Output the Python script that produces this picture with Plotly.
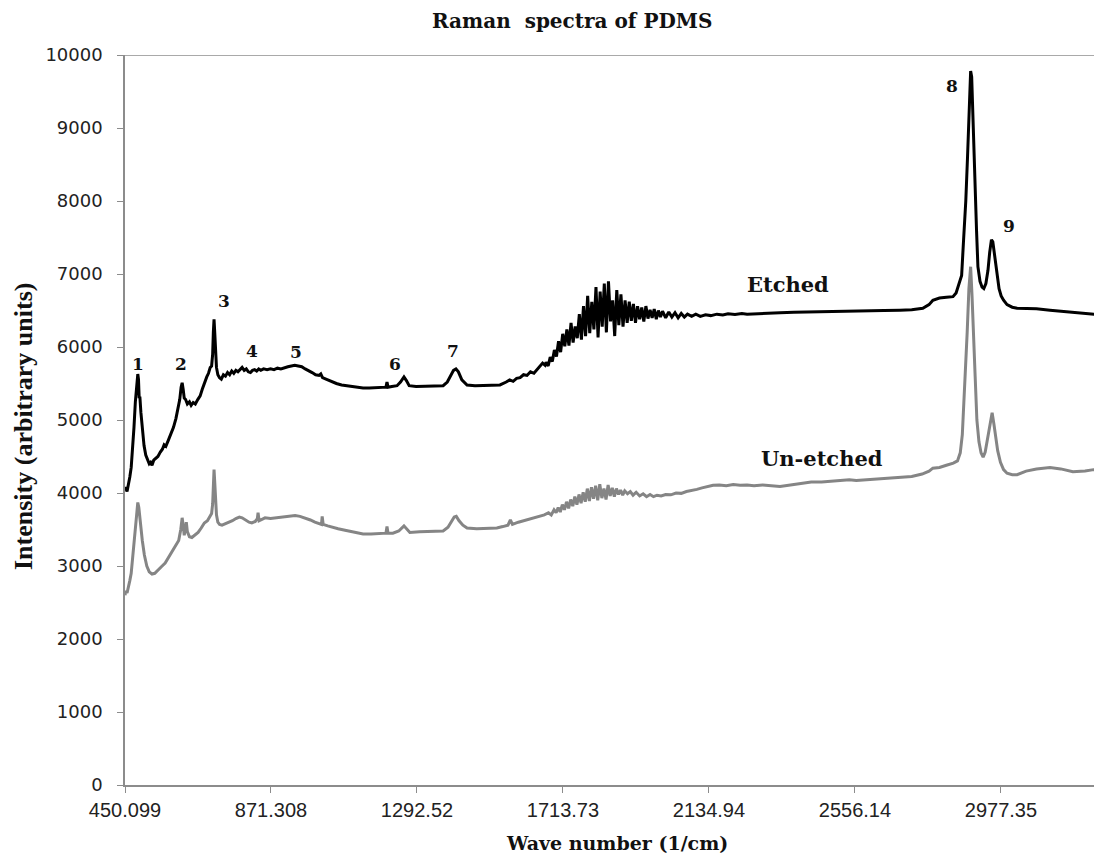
import plotly.graph_objects as go

# ---------------- data ----------------
etched_wn = [450, 453, 456, 460, 464, 468, 472, 476, 480, 484, 487, 489, 491, 493, 496, 500, 505, 510, 515, 520,
             524, 528, 533, 538, 545, 552, 558, 563, 568, 575, 582, 590, 597, 603, 608, 612, 615, 618, 621, 625,
             630, 636, 641, 647, 653, 660, 667, 673, 680, 686, 691, 696, 700, 703, 705, 707, 709, 711, 714, 718,
             723, 728, 734, 740, 746, 752, 758, 764, 770, 776, 782, 788, 794, 800, 806, 812, 818, 824, 830, 836,
             842, 850, 860, 870, 880, 890, 900, 910, 920, 930, 940, 950, 960, 970, 980, 990, 1000, 1010, 1015, 1020,
             1030, 1047, 1060, 1075, 1090, 1105, 1120, 1137, 1155, 1175, 1195, 1203, 1206, 1209, 1220, 1235, 1245, 1255, 1262, 1270,
             1290, 1310, 1330, 1350, 1368, 1380, 1390, 1398, 1405, 1412, 1422, 1437, 1460, 1490, 1523, 1532, 1550, 1560, 1570, 1580,
             1590, 1600, 1610, 1620, 1630, 1640, 1647, 1655, 1662, 1665, 1671, 1677, 1683, 1689, 1695, 1701, 1707, 1713, 1719, 1725,
             1731, 1737, 1743, 1749, 1755, 1761, 1767, 1773, 1779, 1785, 1791, 1797, 1803, 1809, 1815, 1821, 1827, 1833, 1839, 1845,
             1851, 1857, 1863, 1869, 1875, 1881, 1887, 1893, 1899, 1905, 1911, 1917, 1923, 1929, 1935, 1941, 1947, 1953, 1959, 1965,
             1971, 1977, 1983, 1989, 1995, 2001, 2010, 2019, 2028, 2037, 2046, 2055, 2064, 2073, 2085, 2097, 2110, 2125, 2140, 2158,
             2175, 2190, 2210, 2230, 2245, 2282, 2310, 2340, 2380, 2420, 2460, 2484, 2520, 2560, 2600, 2640, 2686, 2720, 2752, 2770,
             2781, 2800, 2820, 2839, 2848, 2856, 2864, 2870, 2876, 2881, 2886, 2890, 2893, 2897, 2902, 2907, 2911, 2917, 2923, 2928,
             2934, 2940, 2945, 2950, 2954, 2960, 2966, 2972, 2978, 2985, 2995, 3010, 3024, 3050, 3080, 3119, 3150, 3185, 3220, 3263,
             3275]
etched_int = [4030, 4080, 4020, 4100, 4220, 4350, 4600, 4900, 5250, 5500, 5630, 5560, 5300, 5320, 5100, 4850, 4650, 4520, 4450, 4400,
              4420, 4380, 4450, 4470, 4500, 4560, 4600, 4660, 4640, 4720, 4800, 4900, 5020, 5140, 5280, 5450, 5510, 5420, 5300, 5280,
              5220, 5250, 5200, 5240, 5220, 5280, 5330, 5420, 5530, 5590, 5640, 5720, 5740, 5900, 6200, 6380, 6200, 5900, 5720, 5620,
              5580, 5560, 5620, 5600, 5650, 5620, 5670, 5640, 5680, 5660, 5690, 5720, 5680, 5700, 5660, 5650, 5680, 5690, 5670, 5700,
              5680, 5700, 5690, 5700, 5690, 5710, 5700, 5720, 5730, 5740, 5750, 5740, 5730, 5700, 5680, 5650, 5620, 5610, 5630, 5580,
              5560, 5520, 5500, 5480, 5470, 5460, 5450, 5440, 5440, 5440, 5450, 5450, 5520, 5450, 5460, 5470, 5520, 5590, 5540, 5470,
              5460, 5460, 5460, 5465, 5470, 5520, 5600, 5680, 5700, 5660, 5550, 5480, 5470, 5470, 5470, 5480, 5520, 5550, 5530, 5570,
              5580, 5620, 5610, 5660, 5640, 5700, 5730, 5780, 5750, 5790, 5740, 5860, 5800, 5960, 5870, 6080, 5930, 6180, 6010, 6240,
              6020, 6330, 6060, 6280, 6120, 6450, 6100, 6560, 6150, 6700, 6190, 6620, 6240, 6820, 6130, 6760, 6280, 6870, 6200, 6900,
              6350, 6640, 6150, 6780, 6300, 6720, 6280, 6640, 6330, 6620, 6360, 6590, 6330, 6560, 6380, 6540, 6350, 6560, 6390, 6510,
              6400, 6520, 6380, 6500, 6410, 6490, 6400, 6480, 6410, 6470, 6400, 6460, 6410, 6450, 6420, 6450, 6420, 6440, 6430, 6450,
              6440, 6455, 6445, 6460, 6450, 6460, 6465, 6470, 6475, 6480, 6480, 6490, 6495, 6490, 6500, 6500, 6505, 6510, 6530, 6580,
              6640, 6670, 6680, 6690, 6740, 6850, 6980, 7500, 8000, 8600, 9300, 9780, 9700, 9000, 8250, 7600, 7100, 6900, 6820, 6800,
              6870, 7050, 7300, 7470, 7440, 7200, 7000, 6800, 6700, 6640, 6580, 6545, 6530, 6530, 6525, 6505, 6490, 6470, 6455, 6440,
              6440]

unetched_wn = [450, 453, 456, 460, 464, 468, 472, 476, 480, 484, 487, 490, 494, 500, 506, 513, 520, 528, 536, 545,
               555, 566, 576, 586, 596, 605, 611, 615, 618, 621, 624, 627, 630, 636, 643, 652, 661, 670, 679, 688,
               695, 700, 703, 705, 707, 709, 711, 714, 718, 723, 730, 740, 750, 760, 770, 780, 788, 798, 808, 816,
               826, 832, 834, 837, 845, 854, 870, 885, 900, 915, 930, 941, 955, 970, 985, 998, 1010, 1017, 1019, 1022,
               1035, 1047, 1065, 1085, 1105, 1137, 1160, 1185, 1203, 1206, 1209, 1223, 1240, 1255, 1263, 1272, 1300, 1330, 1368, 1382,
               1393, 1400, 1406, 1414, 1425, 1437, 1465, 1495, 1523, 1540, 1555, 1562, 1568, 1585, 1600, 1615, 1630, 1645, 1660, 1672,
               1680, 1688, 1694, 1700, 1706, 1712, 1718, 1724, 1730, 1736, 1742, 1748, 1754, 1760, 1766, 1772, 1778, 1784, 1790, 1796,
               1802, 1808, 1814, 1820, 1826, 1832, 1838, 1844, 1850, 1856, 1862, 1868, 1874, 1880, 1886, 1892, 1900, 1908, 1916, 1925,
               1935, 1945, 1955, 1965, 1975, 1985, 1997, 2010, 2025, 2040, 2055, 2070, 2085, 2100, 2115, 2130, 2147, 2165, 2185, 2205,
               2225, 2245, 2265, 2290, 2315, 2340, 2370, 2400, 2430, 2460, 2490, 2520, 2540, 2560, 2590, 2620, 2650, 2686, 2720, 2750,
               2770, 2781, 2800, 2820, 2840, 2852, 2860, 2866, 2871, 2875, 2880, 2885, 2890, 2894, 2898, 2903, 2908, 2914, 2920, 2926,
               2932, 2939, 2945, 2952, 2957, 2962, 2968, 2976, 2985, 2995, 3010, 3024, 3050, 3080, 3119, 3150, 3185, 3220, 3245, 3263,
               3275]
unetched_int = [2600, 2660, 2630, 2700, 2800, 2900, 3100, 3350, 3600, 3800, 3870, 3800, 3600, 3350, 3150, 3000, 2920, 2890, 2900, 2950,
                2990, 3040, 3120, 3200, 3260, 3350, 3500, 3660, 3560, 3420, 3500, 3600, 3470, 3400, 3390, 3420, 3460, 3520, 3590, 3620,
                3680, 3720, 3850, 4150, 4320, 4150, 3900, 3700, 3600, 3570, 3560, 3580, 3590, 3620, 3650, 3670, 3660, 3630, 3600, 3590,
                3610, 3650, 3730, 3620, 3640, 3660, 3650, 3660, 3670, 3680, 3690, 3690, 3680, 3660, 3630, 3600, 3580, 3570, 3680, 3570,
                3550, 3530, 3510, 3490, 3470, 3440, 3440, 3450, 3450, 3540, 3450, 3450, 3480, 3550, 3510, 3460, 3470, 3475, 3480, 3530,
                3620, 3670, 3680, 3620, 3560, 3520, 3510, 3515, 3520, 3540, 3560, 3630, 3570, 3600, 3620, 3640, 3660, 3680, 3700, 3730,
                3700, 3770, 3730, 3800, 3740, 3840, 3770, 3880, 3790, 3910, 3820, 3950, 3840, 3980, 3860, 4010, 3880, 4060, 3890, 4080,
                3920, 4100, 3900, 4120, 3930, 4060, 3910, 4110, 3960, 4070, 3950, 4060, 3980, 4040, 3970, 4030, 3990, 4020, 3970, 4010,
                3960, 3990, 3950, 3980, 3950, 3970, 3960, 3980, 3975, 4000, 3995, 4020, 4030, 4050, 4070, 4090, 4105, 4110, 4100, 4115,
                4105, 4110, 4100, 4110, 4095, 4090, 4110, 4130, 4150, 4150, 4160, 4170, 4180, 4170, 4180, 4190, 4200, 4210, 4225, 4260,
                4300, 4340, 4350, 4380, 4410, 4440, 4550, 4800, 5250, 5600, 6200, 6800, 7100, 6700, 6100, 5600, 5000, 4700, 4550, 4490,
                4560, 4750, 4950, 5100, 4950, 4750, 4580, 4420, 4320, 4270, 4250, 4250, 4300, 4330, 4350, 4330, 4290, 4300, 4320, 4320,
                4310]

tick_vals = [450.099, 871.308, 1292.52, 1713.73, 2134.94, 2556.14, 2977.35]
tick_text = ["450.099", "871.308", "1292.52", "1713.73", "2134.94", "2556.14", "2977.35"]
y_ticks = [0, 1000, 2000, 3000, 4000, 5000, 6000, 7000, 8000, 9000, 10000]
y_tick_text = ["0", "1000", "2000", "3000", "4000", "5000", "6000", "7000", "8000", "9000", "10000"]

peak_labels = ["1", "2", "3", "4", "5", "6", "7", "8", "9"]
peak_label_wn = [488, 612, 736, 817, 943, 1229, 1396, 2836, 3000]
peak_label_int = [5767, 5767, 6630, 5945, 5932, 5767, 5945, 9575, 7658]

series_labels = ["Etched", "Un-etched"]
series_label_wn = [2363, 2461]
series_label_int = [6863, 4479]

# ---------------- figure ----------------
SERIF_WIDE = "DejaVu Serif, Liberation Serif, serif"
SERIF = "Liberation Serif, Times New Roman, serif"
AXIS_GRAY = "#8c8c8c"
# the page body adds an 8px offset; the figure is sized so the plot area
# lands at x 125..1102, y 55..785 in the 1102x860 window
FIG_W, FIG_H = 1094, 852

fig = go.Figure()
fig.add_trace(go.Scatter(x=unetched_wn, y=unetched_int, mode="lines", name="Un-etched",
                         line=dict(color="#858585", width=3)))
fig.add_trace(go.Scatter(x=etched_wn, y=etched_int, mode="lines", name="Etched",
                         line=dict(color="#000000", width=3)))

annotations = []
for t, xw, yi in zip(peak_labels, peak_label_wn, peak_label_int):
    annotations.append(dict(x=xw, y=yi, text="<b>" + t + "</b>", showarrow=False,
                            font=dict(family=SERIF_WIDE, size=17, color="#111111"),
                            xanchor="center", yanchor="middle"))
for t, xw, yi in zip(series_labels, series_label_wn, series_label_int):
    annotations.append(dict(x=xw, y=yi, text="<b>" + t + "</b>", showarrow=False,
                            font=dict(family=SERIF_WIDE, size=21, color="#111111"),
                            xanchor="center", yanchor="middle"))

# axis titles
annotations.append(dict(xref="paper", yref="paper", x=(617 - 125) / 977, y=-(843 - 785) / 730,
                        text="<b>Wave number (1/cm)</b>", showarrow=False,
                        font=dict(family=SERIF_WIDE, size=19, color="#111111"),
                        xanchor="center", yanchor="middle"))
annotations.append(dict(xref="paper", yref="paper", x=(23 - 125) / 977, y=(785 - 427) / 730,
                        text="<b>Intensity (arbitrary units)</b>", showarrow=False, textangle=-90,
                        font=dict(family=SERIF, size=26, color="#111111"),
                        xanchor="center", yanchor="middle"))
# chart title (placed as a paper annotation so it stays fully inside the page)
annotations.append(dict(xref="paper", yref="paper", x=(572 - 125) / 977, y=(785 - 21) / 730,
                        text="<b>Raman  spectra of PDMS</b>", showarrow=False,
                        font=dict(family=SERIF_WIDE, size=20, color="#111111"),
                        xanchor="center", yanchor="middle"))

fig.update_layout(
    width=FIG_W, height=FIG_H,
    margin=dict(l=117, r=0, t=47, b=75),
    paper_bgcolor="white", plot_bgcolor="white",
    showlegend=False,
    annotations=annotations,
    shapes=[dict(type="line", xref="paper", yref="y", x0=0, x1=1, y0=10000, y1=10000,
                 line=dict(color=AXIS_GRAY, width=1.5))],
)

fig.update_xaxes(
    range=[450.099, 3269], tickmode="array", tickvals=tick_vals, ticktext=tick_text,
    showgrid=False, zeroline=False, showline=True, linecolor=AXIS_GRAY, linewidth=1.5,
    ticks="outside", ticklen=6, tickcolor=AXIS_GRAY, tickwidth=1,
    tickfont=dict(family="Liberation Sans, Arial, sans-serif", size=20, color="#222222"),
)
fig.update_yaxes(
    range=[0, 10000], tickmode="array", tickvals=y_ticks, ticktext=y_tick_text,
    showgrid=False, zeroline=False, showline=True, linecolor=AXIS_GRAY, linewidth=1.5,
    ticks="outside", ticklen=6, tickcolor=AXIS_GRAY, tickwidth=1,
    ticklabelstandoff=11,
    tickfont=dict(family="DejaVu Sans, Liberation Sans, sans-serif", size=18, color="#222222"),
)

fig.write_html("out.html")
